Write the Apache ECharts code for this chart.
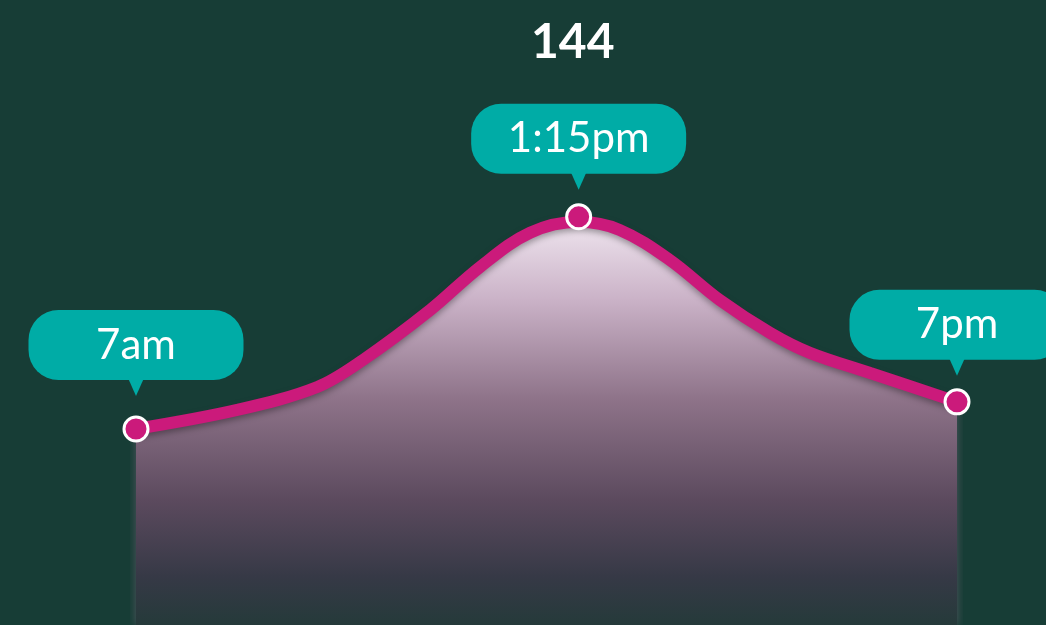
<!DOCTYPE html>
<html>
<head>
<meta charset="utf-8">
<script src="https://cdn.jsdelivr.net/npm/echarts@6/dist/echarts.min.js"></script>
<style>
html,body{margin:0;padding:0;background:#173d36;}
#chart{width:1046px;height:625px;}
</style>
</head>
<body>
<div id="chart"></div>
<script>
// Data
const hours  = [7, 8.48, 9.65, 10.32, 11.3, 12.03, 12.76, 13.47, 14.07, 14.8, 15.53, 16.27, 16.85, 17.73, 19];
const values = [70, 76.8, 85, 94.7, 112.5, 127.9, 140.1, 144, 141.1, 130.4, 116.1, 104.3, 97.2, 90, 79.7];
const calloutIdx    = [0, 7, 14];
const calloutLabels = ['7am', '1:15pm', '7pm'];
const titleText = '144';

const lineColor = '#cb1a7b';
const teal = '#00aca6';
const pinOffsets = [-42, -41, -35];

const linePts = hours.map((h, i) => [h, values[i]]);
const markPts = calloutIdx.map((k, j) => ({
  value: [hours[k], values[k]],
  name: calloutLabels[j],
  symbolOffset: j === 1 ? [0, -5] : [0, 0]
}));
const pinPts = calloutIdx.map((k, j) => ({
  value: [hours[k], values[k]],
  name: calloutLabels[j],
  symbolOffset: [0, pinOffsets[j]]
}));

const chart = echarts.init(document.getElementById('chart'), null, {renderer: 'canvas'});
chart.setOption({
  backgroundColor: '#173d36',
  animation: false,
  title: {
    text: titleText,
    left: 526, top: 14,
    textStyle: {color: '#ffffff', fontSize: 48, fontWeight: 'bold', fontFamily: 'Lato'}
  },
  grid: {left: 136, right: 89, top: 65, bottom: 0},
  xAxis: {type: 'value', min: 7, max: 19, show: false},
  yAxis: {type: 'value', min: 0, max: 200, show: false},
  series: [
    {
      type: 'line',
      data: linePts,
      smooth: 0.35,
      symbol: 'none',
      z: 2,
      lineStyle: {
        color: lineColor, width: 12,
        shadowColor: 'rgba(0,0,0,0.35)', shadowBlur: 6, shadowOffsetY: 3
      },
      areaStyle: {
        opacity: 1,
        color: new echarts.graphic.LinearGradient(0, 0, 0, 1, [
          {offset: 0, color: '#eee4ee'},
          {offset: 0.19, color: '#cbb3c8'},
          {offset: 0.44, color: '#8e7389'},
          {offset: 0.69, color: '#5c4a5e'},
          {offset: 0.88, color: '#363946'},
          {offset: 1, color: '#253a3a'}
        ]),
        shadowColor: 'rgba(140,110,135,0.5)', shadowBlur: 8
      }
    },
    {
      type: 'scatter',
      data: pinPts,
      symbol: 'triangle',
      symbolRotate: 180,
      symbolSize: [16, 18],
      z: 3,
      itemStyle: {color: teal, opacity: 1},
      label: {
        show: true,
        position: 'top',
        distance: -2,
        formatter: p => p.name,
        color: '#ffffff',
        fontFamily: 'Lato',
        fontSize: 42,
        width: 215,
        height: 70,
        lineHeight: 70,
        align: 'center',
        backgroundColor: teal,
        borderRadius: 30
      }
    },
    {
      type: 'scatter',
      data: markPts,
      symbol: 'circle',
      symbolSize: 24,
      z: 4,
      itemStyle: {color: lineColor, borderColor: '#ffffff', borderWidth: 3, opacity: 1}
    }
  ]
});
</script>
</body>
</html>
